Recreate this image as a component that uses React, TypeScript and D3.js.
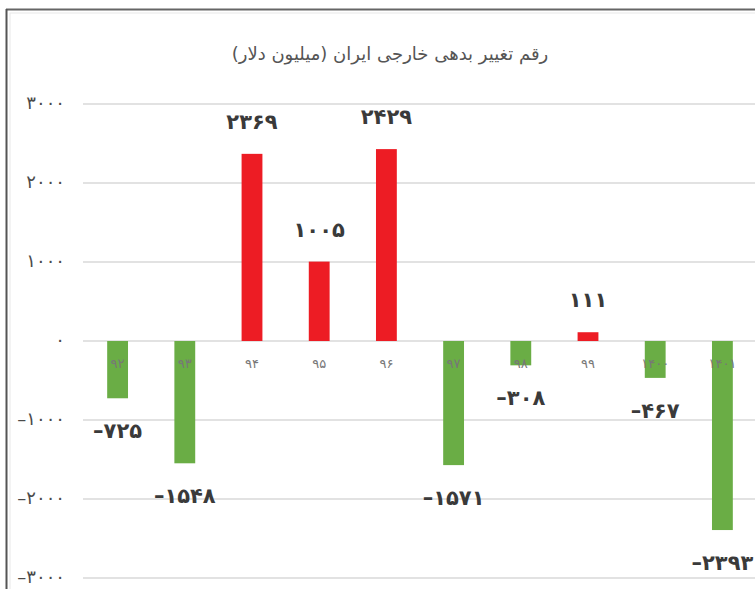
import React from "react";
import * as d3 from "d3";

const categories = ["۹۲", "۹۳", "۹۴", "۹۵", "۹۶", "۹۷", "۹۸", "۹۹", "۱۴۰۰", "۱۴۰۱"];
const values = [-725, -1548, 2369, 1005, 2429, -1571, -308, 111, -467, -2393];
const valueLabels = ["–۷۲۵", "–۱۵۴۸", "۲۳۶۹", "۱۰۰۵", "۲۴۲۹", "–۱۵۷۱", "–۳۰۸", "۱۱۱", "–۴۶۷", "–۲۳۹۳"];
const yTicks = [3000, 2000, 1000, 0, -1000, -2000, -3000];
const yTickLabels = ["۳۰۰۰", "۲۰۰۰", "۱۰۰۰", "۰", "–۱۰۰۰", "–۲۰۰۰", "–۳۰۰۰"];
const title = "رقم تغییر بدهی خارجی ایران (میلیون دلار)";

const W = 755;
const H = 589;
const left = 84;
const right = 756;
const font = "'DejaVu Sans', sans-serif";

export default function App() {
  const x = d3.scaleBand<string>().domain(categories).range([left, right]).paddingInner(0.69).paddingOuter(0.345);
  const y = d3.scaleLinear().domain([-3000, 3000]).range([578, 104]);
  const bw = x.bandwidth();
  return (
    <svg width={W} height={H} style={{ position: "absolute", left: 0, top: 0, background: "#fff" }} fontFamily={font}>
      <rect x={10} y={13} width={W} height={H} fill="none" stroke="#e8e8e8" strokeWidth={1} />
      <line x1={6} y1={9.5} x2={W} y2={9.5} stroke="#666" strokeWidth={2} />
      <line x1={6.5} y1={9} x2={6.5} y2={H} stroke="#555" strokeWidth={2} />
      <text x={390} y={55} textAnchor="middle" dominantBaseline="middle" fontSize={18} fill="#555" direction="rtl">
        {title}
      </text>
      {yTicks.map((t, i) => (
        <g key={t}>
          <line x1={83} x2={W} y1={y(t)} y2={y(t)} stroke="#d9d9d9" strokeWidth={1.5} />
          <text x={65} y={y(t)} textAnchor="end" dominantBaseline="middle" fontSize={18} fill="#4a4a4a" direction="ltr">
            {yTickLabels[i]}
          </text>
        </g>
      ))}
      {values.map((v, i) => {
        const c = categories[i];
        const x0 = x(c)!;
        const top = Math.min(y(v), y(0));
        const h = Math.abs(y(v) - y(0));
        return (
          <rect key={c} x={x0} y={top} width={bw} height={h} fill={v >= 0 ? "#ED1C24" : "#6AAD45"} />
        );
      })}
      {categories.map((c) => (
        <text key={c} x={x(c)! + bw / 2} y={364} textAnchor="middle" dominantBaseline="middle" fontSize={13} fill="#777">
          {c}
        </text>
      ))}
      {values.map((v, i) => {
        const c = categories[i];
        const cx = x(c)! + bw / 2;
        const ly = v >= 0 ? y(v) - 31 : y(v) + 34;
        return (
          <text key={c} x={cx} y={ly} textAnchor="middle" dominantBaseline="middle" fontSize={21} fontWeight="bold" fill="#3a3a3a" direction="ltr">
            {valueLabels[i]}
          </text>
        );
      })}
    </svg>
  );
}
